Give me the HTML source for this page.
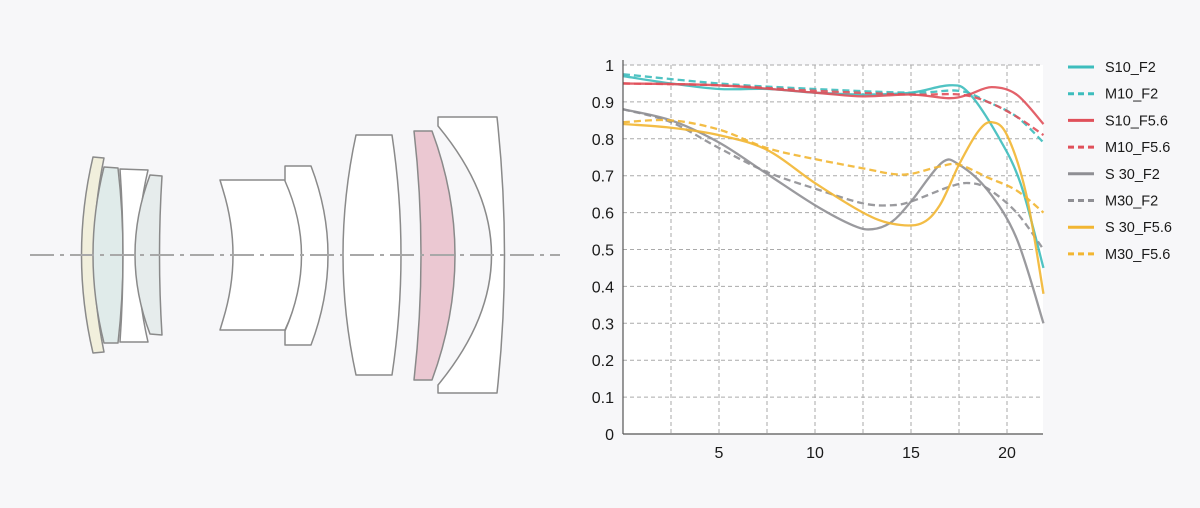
<!DOCTYPE html>
<html><head><meta charset="utf-8"><style>
html,body{margin:0;padding:0;background:#f7f7f9;}
svg{display:block;}
text{font-family:"Liberation Sans",sans-serif;fill:#1a1a1a;}
</style></head><body>
<svg id="s" width="1200" height="508" viewBox="0 0 1200 508" xmlns="http://www.w3.org/2000/svg">
<rect width="1200" height="508" fill="#f7f7f9"/>
<g stroke="#8a8a8a" stroke-width="1.5" stroke-linejoin="round">
<path d="M93,157 L104,158 Q84,255 104,352 L93,353 Q70,255 93,157Z" fill="#f1efdc"/>
<path d="M104,167 L118,168 Q128,255 118,343 L104,343 Q82,255 104,167Z" fill="#e0ebea"/>
<path d="M120,169 L148,170 Q128,255 148,342 L120,342 Q126,255 120,169Z" fill="#fff"/>
<path d="M150,175 L162,176 Q157,255 162,335 L150,334 Q120,255 150,175Z" fill="#e6ecec"/>
<path d="M220,180 L285,180 Q320,255 285,330 L220,330 L223,320 Q243,255 223,190Z" fill="#fff"/>
<path d="M285,166 L311,166 Q345,255 311,345 L285,345 L285,331 Q318,255 285,181Z" fill="#fff"/>
<path d="M356,135 L392,135 Q410,255 392,375 L356,375 Q330,255 356,135Z" fill="#fff"/>
<path d="M414,131 L432,131 Q478,255 432,380 L414,380 Q428,255 414,131Z" fill="#ebc8d2"/>
<path d="M438,117 L497,117 Q512,255 497,393 L438,393 L438,385 Q545,255 438,126Z" fill="#fff"/>
</g>
<line x1="30" y1="255" x2="560" y2="255" stroke="#a8a8a8" stroke-width="2" stroke-dasharray="24,6,4,6"/>
<rect x="623" y="65" width="420" height="369" fill="#fff"/>
<g id="grid" stroke="#aaa" stroke-width="1" stroke-dasharray="4,3"></g>
<g id="ser" fill="none" stroke-width="2.3"></g>
<line x1="623" y1="60" x2="623" y2="434" stroke="#555" stroke-width="1.2"/>
<line x1="623" y1="434" x2="1043" y2="434" stroke="#555" stroke-width="1.2"/>
<g id="lab" font-size="16"></g>
<g id="leg" font-size="14.5"></g>
</svg>
<script>
var NS="http://www.w3.org/2000/svg";
function X(v){return 623+v*19.2;}function Y(v){return 434-v*369;}
function el(p,t,a,txt){var e=document.createElementNS(NS,t);for(var k in a)e.setAttribute(k,a[k]);if(txt!=null)e.textContent=txt;document.getElementById(p).appendChild(e);}
for(var i=1;i<=10;i++){var y=Y(i/10);el("grid","line",{x1:623,x2:1043,y1:y,y2:y});el("lab","text",{x:614,y:y+6,"text-anchor":"end"},i==10?"1":(i/10).toFixed(1));}
el("lab","text",{x:614,y:440,"text-anchor":"end"},"0");
for(var j=1;j<=8;j++){var x=X(j*2.5);el("grid","line",{x1:x,x2:x,y1:65,y2:434});}
[5,10,15,20].forEach(function(v){el("lab","text",{x:X(v),y:458,"text-anchor":"middle"},v);});
var T="#3dbdbd",R="#e0505a",G="#8f8f94",Yl="#f2b632";
var S=[
["S10_F2",T,0,[[0,.97],[2.5,.95],[5,.935],[7.5,.935],[10,.925],[12.5,.92],[15,.925],[17,.945],[18,.925],[19.5,.81],[20.7,.68],[21.9,.45]]],
["M10_F2",T,1,[[0,.975],[5,.95],[10,.935],[15,.925],[17.5,.93],[19,.9],[20.5,.86],[21.9,.79]]],
["S10_F5.6",R,0,[[0,.95],[5,.945],[10,.925],[12.5,.915],[15,.92],[17,.91],[18,.92],[19.2,.94],[20.5,.92],[21.9,.84]]],
["M10_F5.6",R,1,[[0,.95],[5,.945],[10,.93],[15,.92],[17.5,.92],[19,.9],[20.5,.86],[21.9,.81]]],
["S 30_F2",G,0,[[0,.88],[2.5,.85],[5,.79],[7.5,.705],[10,.62],[12,.565],[13,.555],[14,.575],[15,.63],[16.6,.735],[17.5,.73],[19,.66],[20.5,.53],[21.9,.3]]],
["M30_F2",G,1,[[0,.88],[2.5,.845],[5,.775],[7.5,.71],[10,.665],[12.5,.625],[14,.62],[15,.63],[17,.67],[18,.68],[19,.665],[20.5,.6],[21.9,.5]]],
["S 30_F5.6",Yl,0,[[0,.84],[2.5,.83],[5,.81],[7.5,.77],[10,.68],[12.5,.6],[14,.57],[15.5,.57],[16.5,.62],[17.5,.73],[18.5,.82],[19.2,.845],[20,.81],[21,.65],[21.9,.38]]],
["M30_F5.6",Yl,1,[[0,.845],[2.5,.85],[5,.825],[7.5,.775],[10,.745],[12.5,.72],[14,.705],[15,.705],[16.5,.725],[17.5,.73],[19,.695],[20.5,.66],[21.9,.6]]]];
function path(pts){var p=pts.map(function(q){return[X(q[0]),Y(q[1])]});var d="M"+p[0][0]+","+p[0][1];
for(var i=0;i<p.length-1;i++){var a=p[i-1]||p[i],b=p[i],c=p[i+1],e=p[i+2]||c;
d+=" C"+(b[0]+(c[0]-a[0])/6)+","+(b[1]+(c[1]-a[1])/6)+" "+(c[0]-(e[0]-b[0])/6)+","+(c[1]-(e[1]-b[1])/6)+" "+c[0]+","+c[1];}return d;}
S.forEach(function(s,k){var a={d:path(s[3]),stroke:s[1],opacity:.9};if(s[2])a["stroke-dasharray"]="7,4";el("ser","path",a);
var y=67+k*26.7;var b={x1:1068,x2:1094,y1:y,y2:y,stroke:s[1],"stroke-width":3};if(s[2])b["stroke-dasharray"]="6,4";el("leg","line",b);
el("leg","text",{x:1105,y:y+5},s[0]);});
</script>
</body></html>
